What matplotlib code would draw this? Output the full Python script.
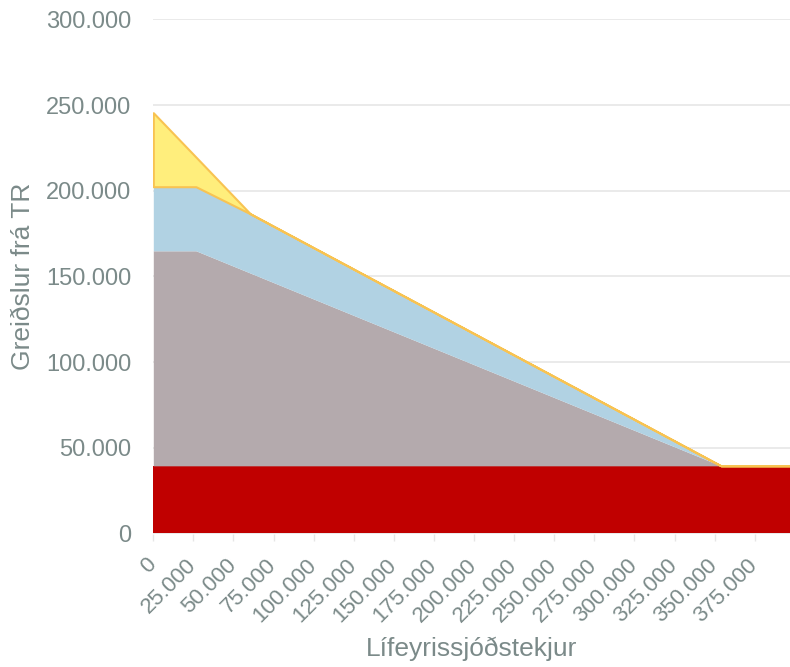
import matplotlib
matplotlib.use("Agg")
import matplotlib.pyplot as plt
from matplotlib.ticker import FuncFormatter, MultipleLocator
from matplotlib.transforms import ScaledTranslation
import numpy as np

# ------------------------------------------------------------
# Data
# ------------------------------------------------------------
tekjur = [0, 26600, 60500, 354000, 397000]        # Lífeyrissjóðstekjur
raud = [39500, 39500, 39500, 39500, 39500]         # bottom layer (red)
gra = [125500, 125500, 112500, 0, 0]               # grey layer
bla = [37400, 37400, 34600, 0, 0]                  # blue layer
gul = [43200, 17300, 0, 0, 0]                      # yellow layer

x_ticks = np.arange(0, 400000, 25000)

TEXT_COL = "#7b8a89"
GRID_COL = "#e6e6e6"

plt.rcParams["font.family"] = ["Liberation Sans", "DejaVu Sans"]

def thousand_dot(v, pos=None):
    return f"{int(round(v)):,}".replace(",", ".")

fig = plt.figure(figsize=(7.9, 6.67), dpi=100)
ax = fig.add_axes([153.3 / 790, 1 - 533.5 / 667, 1 - 153.3 / 790, (533.5 - 19.5) / 667])

# stacked areas
base = np.zeros(len(tekjur))
layers = [
    (raud, "#c00000", None),
    (gra, "#b4aaad", None),
    (bla, "#b1d2e3", None),
    (gul, "#ffee7c", "#f8c352"),
]
for vals, col, edge in layers:
    top = base + np.array(vals)
    if edge is None:
        ax.fill_between(tekjur, base, top, color=col, lw=0, zorder=2)
    else:
        ax.fill_between(tekjur, base, top, facecolor=col, edgecolor=edge,
                        lw=1.5, zorder=3)
    base = top

ax.set_xlim(0, 397000)
ax.set_ylim(0, 300000)

ax.yaxis.set_major_locator(MultipleLocator(50000))
ax.set_xticks(x_ticks)
ax.xaxis.set_major_formatter(FuncFormatter(thousand_dot))
ax.yaxis.set_major_formatter(FuncFormatter(thousand_dot))

ax.grid(axis="y", color=GRID_COL, lw=1.2, zorder=0)
ax.set_axisbelow(True)
for s in ax.spines.values():
    s.set_visible(False)

ax.tick_params(axis="y", length=0, pad=16, labelsize=17, labelcolor=TEXT_COL)
ax.tick_params(axis="x", length=5, width=1, color=GRID_COL, pad=5,
               labelsize=16, labelcolor=TEXT_COL)
shift = ScaledTranslation(-8 / 100, -7 / 100, fig.dpi_scale_trans)
for lab in ax.get_xticklabels():
    lab.set_rotation(45)
    lab.set_ha("right")
    lab.set_va("top")
    lab.set_rotation_mode("anchor")
    lab.set_transform(lab.get_transform() + shift)

ax.set_xlabel("Lífeyrissjóðstekjur", fontsize=19, color=TEXT_COL, va="center")
ax.set_ylabel("Greiðslur frá TR", fontsize=19, color=TEXT_COL, va="center")
ax.xaxis.set_label_coords(0.5, (533.5 - 649) / 514)
ax.yaxis.set_label_coords((23 - 153.3) / (790 - 153.3), 0.5)

fig.savefig("out.png", dpi=100)
